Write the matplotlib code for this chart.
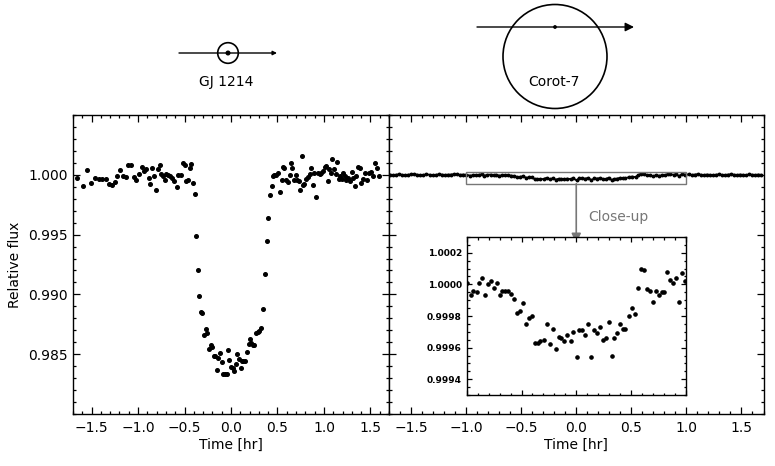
import numpy as np
import matplotlib
matplotlib.use("Agg")
import matplotlib.pyplot as plt
from matplotlib.patches import Circle, Rectangle
from matplotlib.ticker import MultipleLocator, FuncFormatter

# ---------------------------------------------------------------------------
# GJ 1214 light curve (time [hr], relative flux)
# ---------------------------------------------------------------------------
gj_time = [
    -1.655, -1.590, -1.547, -1.504, -1.462, -1.422, -1.383, -1.340, -1.312, -1.279,
    -1.247, -1.226, -1.190, -1.162, -1.133, -1.104, -1.072, -1.047, -1.019, -0.990,
    -0.958, -0.936, -0.911, -0.886, -0.868, -0.847, -0.829, -0.804, -0.783, -0.768,
    -0.751, -0.733, -0.711, -0.697, -0.676, -0.654, -0.633, -0.611, -0.583, -0.565,
    -0.536, -0.515, -0.497, -0.479, -0.461, -0.440, -0.426, -0.411, -0.390, -0.375,
    -0.354, -0.340,
    -0.325, -0.308, -0.290, -0.272, -0.254, -0.240, -0.218, -0.204, -0.186, -0.168,
    -0.150, -0.136, -0.118, -0.097, -0.083, -0.061, -0.043, -0.032, -0.018,
    0.000, 0.017, 0.035, 0.053, 0.068, 0.082, 0.103, 0.118, 0.132, 0.153,
    0.171, 0.189, 0.203, 0.218, 0.232, 0.250, 0.271, 0.289, 0.303, 0.325, 0.346,
    0.364, 0.386, 0.400, 0.418, 0.439, 0.453, 0.468, 0.489, 0.503, 0.525,
    0.546, 0.564, 0.575, 0.596, 0.611, 0.632, 0.646, 0.661, 0.675, 0.696,
    0.714, 0.732, 0.746, 0.761, 0.775, 0.789, 0.811, 0.825, 0.846, 0.864,
    0.882, 0.896, 0.914, 0.932, 0.954, 0.968, 0.989, 1.007, 1.021, 1.039,
    1.054, 1.075, 1.089, 1.111, 1.125, 1.143, 1.161, 1.175, 1.189, 1.207,
    1.225, 1.239, 1.254, 1.275, 1.297, 1.311, 1.332, 1.347, 1.368, 1.386,
    1.404, 1.418, 1.439, 1.461, 1.482, 1.504, 1.525, 1.547, 1.568, 1.589,
]
gj_flux = [
    0.99975, 0.99903, 1.00042, 0.99931, 0.99972, 0.99964, 0.99964, 0.99964, 0.99919, 0.99911,
    0.99936, 0.99986, 1.00042, 0.99986, 0.99983, 1.00081, 1.00083, 0.99981, 0.99958, 1.00008,
    1.00069, 1.00031, 1.00047, 0.99972, 0.99925, 1.00053, 0.99986, 0.99872, 1.00047, 1.00083,
    1.00006, 0.99986, 0.99953, 1.00008, 1.00000, 0.99992, 0.99972, 0.99944, 0.99897, 0.99997,
    0.99997, 1.00097, 1.00086, 0.99944, 0.99953, 1.00053, 1.00092, 0.99931, 0.99836, 0.99492,
    0.99203, 0.98986,
    0.98853, 0.98842, 0.98658, 0.98708, 0.98681, 0.98542, 0.98581, 0.98558, 0.98486, 0.98486,
    0.98364, 0.98472, 0.98508, 0.98431, 0.98336, 0.98333, 0.98333, 0.98536, 0.98450,
    0.98397, 0.98386, 0.98361, 0.98417, 0.98500, 0.98458, 0.98381, 0.98442, 0.98442, 0.98442,
    0.98519, 0.98586, 0.98625, 0.98597, 0.98581, 0.98575, 0.98681, 0.98686, 0.98694, 0.98722, 0.98881,
    0.99169, 0.99444, 0.99636, 0.99833, 0.99903, 0.99992, 0.99997, 0.99997, 1.00017, 0.99853,
    0.99953, 1.00069, 1.00056, 0.99953, 0.99936, 1.00000, 1.00097, 1.00056, 0.99953, 0.99997,
    0.99953, 0.99944, 0.99875, 1.00161, 0.99914, 0.99919, 0.99969, 0.99978, 1.00006, 1.00053,
    0.99914, 1.00011, 0.99811, 1.00017, 1.00003, 1.00014, 1.00033, 1.00064, 1.00075, 0.99947,
    1.00047, 1.00014, 1.00131, 1.00047, 1.00008, 1.00103, 0.99969, 0.99992, 0.99964, 1.00014,
    0.99992, 0.99953, 0.99972, 0.99950, 1.00022, 0.99972, 0.99908, 0.99986, 1.00064, 1.00053,
    0.99931, 0.99967, 1.00014, 0.99953, 1.00019, 1.00025, 0.99986, 1.00097, 1.00056, 0.99992,
]

# ---------------------------------------------------------------------------
# Corot-7 light curve: in-transit window (shown in the close-up) ...
# ---------------------------------------------------------------------------
corot_time = [
    -1.000, -0.963, -0.939, -0.908, -0.884, -0.860, -0.833, -0.808, -0.778, -0.750,
    -0.726, -0.699, -0.674, -0.650, -0.623, -0.595, -0.565, -0.538, -0.513, -0.483,
    -0.456, -0.428, -0.401, -0.377, -0.352, -0.331, -0.295, -0.270, -0.240, -0.212,
    -0.185, -0.161, -0.137, -0.112, -0.082, -0.051, -0.027, 0.003, 0.028, 0.055,
    0.082, 0.110, 0.137, 0.164, 0.189, 0.216, 0.246, 0.271, 0.295, 0.323,
    0.347, 0.374, 0.398, 0.423, 0.447, 0.478, 0.505, 0.538, 0.563, 0.587,
    0.617, 0.642, 0.672, 0.696, 0.724, 0.751, 0.779, 0.803, 0.830, 0.854,
    0.885, 0.909, 0.933, 0.961, 0.991,
]
corot_flux = [
    1.00001, 0.99993, 0.99996, 0.99995, 1.00001, 1.00004, 0.99993, 1.00000, 1.00002, 0.99998,
    1.00001, 0.99993, 0.99996, 0.99996, 0.99996, 0.99994, 0.99991, 0.99982, 0.99983, 0.99988,
    0.99975, 0.99979, 0.99980, 0.99963, 0.99963, 0.99964, 0.99965, 0.99975, 0.99962, 0.99972,
    0.99959, 0.99967, 0.99966, 0.99964, 0.99968, 0.99964, 0.99970, 0.99954, 0.99971, 0.99971,
    0.99968, 0.99975, 0.99954, 0.99971, 0.99969, 0.99973, 0.99965, 0.99966, 0.99976, 0.99955,
    0.99966, 0.99969, 0.99975, 0.99972, 0.99972, 0.99980, 0.99985, 0.99981, 0.99998, 1.00010,
    1.00009, 0.99997, 0.99996, 0.99989, 0.99996, 0.99993, 0.99995, 0.99995, 1.00008, 1.00003,
    1.00001, 1.00004, 0.99989, 1.00007, 1.00002,
]
# ... and out-of-window baseline on each side
corot_pre_time = [
    -1.690, -1.662, -1.635, -1.607, -1.580, -1.552, -1.525, -1.497, -1.470, -1.442,
    -1.415, -1.387, -1.360, -1.332, -1.305, -1.277, -1.250, -1.222, -1.195, -1.167,
    -1.140, -1.112, -1.085, -1.057, -1.030,
]
corot_pre_flux = [
    1.00002, 0.99998, 1.00001, 1.00004, 1.00000, 0.99997, 1.00001, 1.00003, 1.00005, 1.00001,
    0.99998, 1.00000, 1.00003, 1.00001, 0.99997, 1.00000, 1.00003, 1.00002, 0.99999, 1.00001,
    1.00002, 1.00005, 1.00003, 1.00000, 1.00002,
]
corot_post_time = [
    1.020, 1.047, 1.075, 1.102, 1.130, 1.157, 1.185, 1.212, 1.240, 1.267,
    1.295, 1.322, 1.350, 1.377, 1.405, 1.432, 1.460, 1.487, 1.515, 1.542,
    1.570, 1.597, 1.625, 1.652, 1.680,
]
corot_post_flux = [
    1.00004, 0.99999, 1.00002, 1.00005, 1.00001, 0.99998, 1.00002, 1.00000, 0.99997, 1.00001,
    1.00003, 1.00000, 0.99998, 1.00002, 1.00004, 1.00001, 0.99999, 1.00002, 1.00000, 0.99998,
    1.00003, 1.00001, 0.99999, 1.00002, 1.00000,
]

x_ticks = [-1.5, -1.0, -0.5, 0.0, 0.5, 1.0, 1.5]
y_ticks = [0.985, 0.990, 0.995, 1.000]
inset_y_ticks = [0.9994, 0.9996, 0.9998, 1.0000, 1.0002]
zoom_box = (-1.0, 1.0, 0.99925, 1.00025)   # close-up window in main panel

W, H = 775, 466
GREY = "#777777"


def fmt(decimals):
    # IDL-style labels with a real minus sign
    def _f(v, pos):
        s = f"{v:.{decimals}f}"
        if s.startswith("-"):
            s = "\u2212" + s[1:]
        if s == "\u2212" + f"{0:.{decimals}f}":
            s = s[1:]
        return s
    return FuncFormatter(_f)


def style_axis(ax, xmaj, xmin, ymaj, ymin, major_len=5, minor_len=2.5):
    ax.xaxis.set_major_locator(MultipleLocator(xmaj))
    ax.xaxis.set_minor_locator(MultipleLocator(xmin))
    ax.yaxis.set_major_locator(MultipleLocator(ymaj))
    ax.yaxis.set_minor_locator(MultipleLocator(ymin))
    ax.tick_params(which="both", direction="in", top=True, right=True, width=0.9)
    ax.tick_params(which="major", length=major_len)
    ax.tick_params(which="minor", length=minor_len)
    for sp in ax.spines.values():
        sp.set_linewidth(1.0)


fig = plt.figure(figsize=(W / 100, H / 100), dpi=100)

# --- schematic of the transits (pixel coordinates of the figure) -----------
sk = fig.add_axes([0, 0, 1, 1])
sk.set_xlim(0, W)
sk.set_ylim(H, 0)
sk.axis("off")

sk.add_patch(Circle((228, 53), 10.3, fill=False, lw=1.2, color="k"))
sk.add_patch(Circle((228, 53), 1.8, color="k"))
sk.annotate("", xy=(277, 53), xytext=(179, 53),
            arrowprops=dict(arrowstyle="-|>", mutation_scale=6, lw=1.0, color="k",
                            shrinkA=0, shrinkB=0))
sk.text(226, 82, "GJ 1214", ha="center", va="center", fontsize=10)

sk.add_patch(Circle((555, 56.5), 52, fill=False, lw=1.2, color="k"))
sk.add_patch(Circle((555, 27), 1.2, color="k"))
sk.annotate("", xy=(634, 27), xytext=(477, 27),
            arrowprops=dict(arrowstyle="-|>", mutation_scale=13, lw=1.0, color="k",
                            shrinkA=0, shrinkB=0))
sk.text(554, 82, "Corot-7", ha="center", va="center", fontsize=10)

# --- left panel: GJ 1214 --------------------------------------------------
ax1 = fig.add_axes([73 / W, 1 - 414 / H, 316 / W, 299 / H])
ax1.plot(gj_time, gj_flux, "o", ms=2.6, color="k", mec="k")
ax1.set_xlim(-1.7, 1.7)
ax1.set_ylim(0.980, 1.005)
style_axis(ax1, 0.5, 0.1, 0.005, 0.001)
ax1.set_xticks(x_ticks)
ax1.set_yticks(y_ticks)
ax1.yaxis.set_major_formatter(fmt(3))
ax1.xaxis.set_major_formatter(fmt(1))
ax1.tick_params(axis="x", pad=5, labelsize=10)
ax1.tick_params(axis="y", labelsize=10)
ax1.set_xlabel("Time [hr]", fontsize=10, labelpad=2)
fig.text(15 / W, 1 - 264.5 / H, "Relative flux", rotation=90,
         ha="center", va="center", fontsize=10)

# --- right panel: Corot-7 --------------------------------------------------
ax2 = fig.add_axes([389 / W, 1 - 414 / H, 374.5 / W, 299 / H])
all_t = corot_pre_time + corot_time + corot_post_time
all_f = corot_pre_flux + corot_flux + corot_post_flux
ax2.plot(all_t, all_f, "o-", ms=1.8, lw=1.3, color="k")
ax2.set_xlim(-1.7, 1.7)
ax2.set_ylim(0.980, 1.005)
style_axis(ax2, 0.5, 0.1, 0.005, 0.001)
ax2.set_xticks(x_ticks)
ax2.set_yticks(y_ticks)
ax2.set_yticklabels([])
ax2.xaxis.set_major_formatter(fmt(1))
ax2.tick_params(axis="x", pad=5, labelsize=10)
ax2.set_xlabel("Time [hr]", fontsize=10, labelpad=2)

x0, x1, y0, y1 = zoom_box
ax2.add_patch(Rectangle((x0, y0), x1 - x0, y1 - y0, fill=False,
                        ec=GREY, lw=1.0, zorder=3))
ax2.annotate("", xy=(0.0, 0.9943), xytext=(0.0, y0),
             arrowprops=dict(arrowstyle="-|>", mutation_scale=14, lw=1.2,
                             color=GREY, shrinkA=0, shrinkB=0))
ax2.text(0.11, 0.9965, "Close-up", color=GREY, fontsize=10,
         ha="left", va="center")

# --- close-up inset --------------------------------------------------------
ax3 = fig.add_axes([466.7 / W, 1 - 395 / H, 219.3 / W, 158 / H])
ax3.plot(corot_time, corot_flux, "o", ms=2.3, color="k")
ax3.set_xlim(-1.0, 1.0)
ax3.set_ylim(0.9993, 1.0003)
style_axis(ax3, 0.5, 0.1, 0.0002, 0.00005, major_len=3.5, minor_len=1.8)
ax3.set_yticks(inset_y_ticks)
ax3.set_xticklabels([])
ax3.yaxis.set_major_formatter(fmt(4))
ax3.tick_params(axis="y", labelsize=6.5)
for lab in ax3.get_yticklabels():
    lab.set_fontweight("bold")

fig.savefig("out.png", dpi=100)
